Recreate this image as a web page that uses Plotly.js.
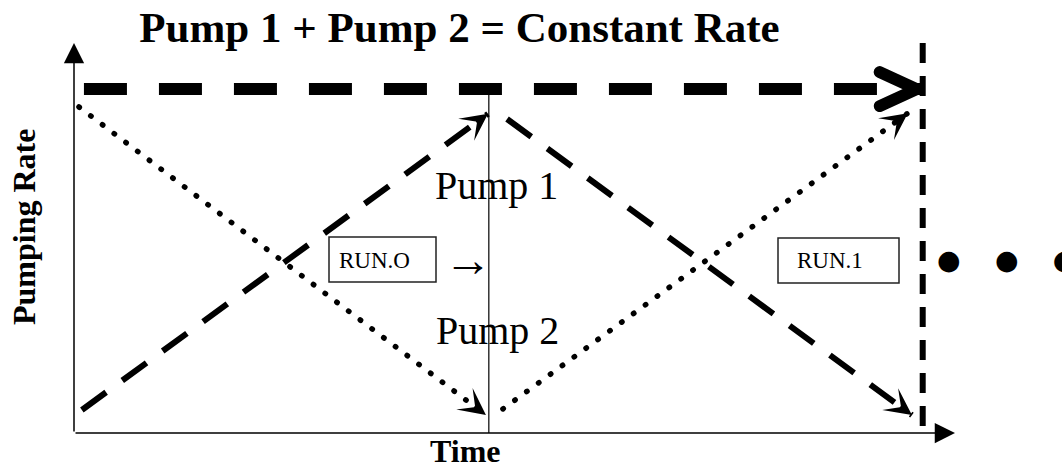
<!DOCTYPE html>
<html><head><meta charset="utf-8">
<script src="https://cdn.plot.ly/plotly-3.0.1.min.js"></script>
<style>html,body{margin:0;padding:0;background:#fff;} #chart{width:1062px;height:468px;}</style>
</head><body><div id="chart"></div>
<script>
// ---------- data (time in run units, rate as fraction of the constant total) ----------
const constantRate = 1.0;
const constantLineTime = [0.024, 2.05];
const runSwitchTime = 1.002;
const runEndTime = 2.05;
const dividerRate = [0, 1.0];
const endMarkerRate = [1.134, 0.015];

const run0DottedTime = [0.012, 0.995];
const run0DottedRate = [0.948, 0.052];
const run0DashedTime = [0.019, 1.0];
const run0DashedRate = [0.067, 0.928];
const run1DashedTime = [1.046, 2.024];
const run1DashedRate = [0.913, 0.052];
const run1DottedTime = [1.036, 2.014];
const run1DottedRate = [0.070, 0.930];

const xMax = 2.128;
const yMax = 1.134;

const titleText = 'Pump 1 + Pump 2 = Constant Rate';
const yLabel = 'Pumping Rate';
const xLabel = 'Time';
const pumpLabels = ['Pump 1', 'Pump 2'];
const runLabels = ['RUN.O', 'RUN.1'];
const arrowText = '→';
const moreText = '●    ●    ●';

// ---------- layout geometry ----------
const W = 1062, H = 468;
const M = {l: 74, r: 107, t: 43, b: 35};
const plotW = W - M.l - M.r, plotH = H - M.t - M.b;
const sx = plotW / xMax, sy = plotH / yMax;
const px2paperX = px => (px - M.l) / plotW;
const py2paperY = py => (H - M.b - py) / plotH;

const serif = '"Liberation Serif", "Times New Roman", serif';
const black = '#000000';

function lineTrace(x, y, width, dash) {
  return {x: x, y: y, type: 'scatter', mode: 'lines', hoverinfo: 'skip', showlegend: false,
          line: {color: black, width: width, dash: dash}};
}

const data = [
  lineTrace(constantLineTime, [constantRate, constantRate], 12, '43px,32px'),
  lineTrace([runSwitchTime, runSwitchTime], dividerRate, 1.2, 'solid'),
  lineTrace([runEndTime, runEndTime], endMarkerRate, 6, '20px,13px'),
  lineTrace(run0DottedTime, run0DottedRate, 5.5, '0.5px,14.2px'),
  lineTrace(run0DashedTime, run0DashedRate, 6, '30px,20px'),
  lineTrace(run1DashedTime, run1DashedRate, 6, '30px,20px'),
  lineTrace(run1DottedTime, run1DottedRate, 5.5, '0.5px,14.2px')
];
const dottedIdx = [3, 6];

function tipArrow(xs, ys) {
  const dx = (xs[1] - xs[0]) * sx, dy = -(ys[1] - ys[0]) * sy;
  const len = Math.hypot(dx, dy);
  return {x: xs[1], y: ys[1], xref: 'x', yref: 'y', text: '', showarrow: true,
          ax: -dx / len * 13, ay: -dy / len * 13,
          arrowhead: 3, arrowwidth: 1, arrowsize: 4.5, arrowcolor: black};
}

function label(text, px, py, size, bold, extra) {
  return Object.assign({text: bold ? '<b>' + text + '</b>' : text, xref: 'paper', yref: 'paper',
    x: px2paperX(px), y: py2paperY(py), showarrow: false, xanchor: 'center', yanchor: 'middle',
    font: {family: serif, size: size, color: black}}, extra || {});
}

const annotations = [
  {x: xMax, y: 0, ax: 0, ay: 0, axref: 'x', ayref: 'y', xref: 'x', yref: 'y', text: '', showarrow: true,
   arrowhead: 2, arrowwidth: 1.5, arrowsize: 2.7, arrowcolor: black},
  {x: 0, y: yMax, ax: 0, ay: 0, axref: 'x', ayref: 'y', xref: 'x', yref: 'y', text: '', showarrow: true,
   arrowhead: 2, arrowwidth: 1.5, arrowsize: 2.7, arrowcolor: black},
  tipArrow(run0DottedTime, run0DottedRate),
  tipArrow(run0DashedTime, run0DashedRate),
  tipArrow(run1DashedTime, run1DashedRate),
  tipArrow(run1DottedTime, run1DottedRate),
  label(pumpLabels[0], 496, 185.5, 40, false),
  label(pumpLabels[1], 497.5, 330.5, 40, false),
  label(runLabels[0], 374.5, 260, 23, false),
  label(runLabels[1], 830, 260, 23, false),
  label(arrowText, 467.5, 259, 48, false),
  label(moreText, 935, 259, 27, false, {xanchor: 'left', font: {family: '"DejaVu Sans", sans-serif', size: 27, color: black}}),
  label(yLabel, 24, 227, 32, true, {textangle: -90}),
  label(xLabel, 465.5, 450.5, 32, true)
];

const shapes = [
  {type: 'path', xref: 'x', yref: 'y', xsizemode: 'pixel', ysizemode: 'pixel',
   xanchor: runEndTime, yanchor: constantRate, path: 'M-43,17L-6,0L-43,-17',
   line: {color: black, width: 12}},
  {type: 'rect', xref: 'paper', yref: 'paper', x0: px2paperX(329), x1: px2paperX(436),
   y0: py2paperY(282), y1: py2paperY(237), line: {color: '#222', width: 1.5}},
  {type: 'rect', xref: 'paper', yref: 'paper', x0: px2paperX(778), x1: px2paperX(899),
   y0: py2paperY(283), y1: py2paperY(238), line: {color: '#222', width: 1.5}}
];

const hiddenAxis = {showgrid: false, zeroline: false, showline: false, showticklabels: false, ticks: '', fixedrange: true};

const layout = {
  width: W, height: H, margin: M,
  paper_bgcolor: '#ffffff', plot_bgcolor: '#ffffff',
  title: {text: '<b>' + titleText + '</b>', font: {family: serif, size: 43, color: black},
          x: 459.5 / W, xref: 'container', xanchor: 'center', y: 1 - 27.3 / H, yref: 'container', yanchor: 'middle'},
  xaxis: Object.assign({range: [0, xMax]}, hiddenAxis),
  yaxis: Object.assign({range: [0, yMax]}, hiddenAxis),
  showlegend: false,
  annotations: annotations,
  shapes: shapes
};

Plotly.newPlot('chart', data, layout, {staticPlot: true, displayModeBar: false}).then(gd => {
  const traces = gd.querySelectorAll('.scatterlayer .trace');
  dottedIdx.forEach(i => {
    const p = traces[i] && traces[i].querySelector('.js-line');
    if (p) p.style.strokeLinecap = 'round';
  });
  gd.querySelectorAll('.shapelayer path[data-index="0"]').forEach(p => {
    p.style.strokeLinecap = 'round';
    p.style.strokeLinejoin = 'round';
  });
});
</script>
</body></html>
